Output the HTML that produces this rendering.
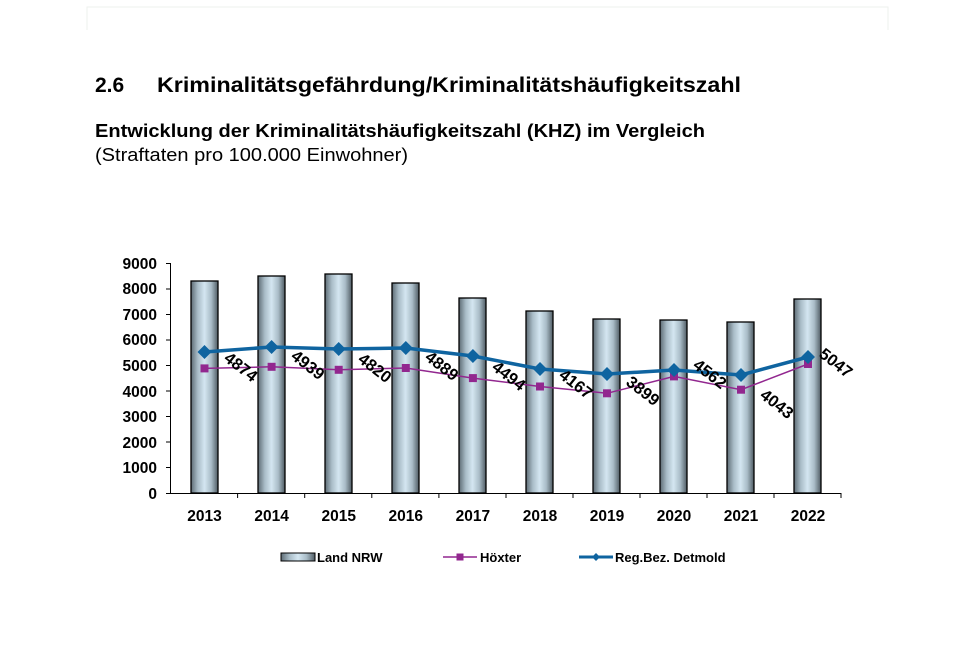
<!DOCTYPE html>
<html><head><meta charset="utf-8"><style>html,body{margin:0;padding:0;background:#fff}svg{display:block}</style></head>
<body>
<svg width="953" height="671" viewBox="0 0 953 671" xmlns="http://www.w3.org/2000/svg" font-family="Liberation Sans, Arial, sans-serif">
<defs>
<linearGradient id="bg" x1="0" x2="1" y1="0" y2="0">
<stop offset="0" stop-color="#5d6b74"/><stop offset="0.25" stop-color="#a9bcc7"/><stop offset="0.5" stop-color="#d4e6f1"/><stop offset="0.75" stop-color="#a9bcc7"/><stop offset="1" stop-color="#4f5b63"/>
</linearGradient>
</defs>
<path d="M87 30 V7 H888 V30" fill="none" stroke="#eef0ee" stroke-width="1"/>
<text x="95" y="92" font-size="21" font-weight="bold" fill="#000">2.6</text>
<text x="157" y="92" font-size="21" font-weight="bold" fill="#000" textLength="584" lengthAdjust="spacingAndGlyphs">Kriminalitätsgefährdung/Kriminalitätshäufigkeitszahl</text>
<text x="95" y="137" font-size="18" font-weight="bold" fill="#000" textLength="610" lengthAdjust="spacingAndGlyphs">Entwicklung der Kriminalitätshäufigkeitszahl (KHZ) im Vergleich</text>
<text x="95" y="161" font-size="18" fill="#000" textLength="313" lengthAdjust="spacingAndGlyphs">(Straftaten pro 100.000 Einwohner)</text>
<g font-size="15.5" font-weight="bold" text-anchor="end" fill="#000">
<text x="157" y="499">0</text><text x="157" y="473">1000</text><text x="157" y="448">2000</text><text x="157" y="422">3000</text><text x="157" y="397">4000</text><text x="157" y="371">5000</text><text x="157" y="345">6000</text><text x="157" y="320">7000</text><text x="157" y="294">8000</text><text x="157" y="269">9000</text>
</g>
<g stroke="#000" stroke-width="1">
<line x1="170.5" y1="263" x2="170.5" y2="494"/>
<line x1="166" y1="493.5" x2="841" y2="493.5"/>
<line x1="166" x2="170" y1="263.5" y2="263.5"/><line x1="166" x2="170" y1="289" y2="289"/><line x1="166" x2="170" y1="314.5" y2="314.5"/><line x1="166" x2="170" y1="340" y2="340"/><line x1="166" x2="170" y1="365.5" y2="365.5"/><line x1="166" x2="170" y1="391" y2="391"/><line x1="166" x2="170" y1="416.5" y2="416.5"/><line x1="166" x2="170" y1="442" y2="442"/><line x1="166" x2="170" y1="467.5" y2="467.5"/>
<line x1="237.6" x2="237.6" y1="493" y2="498"/><line x1="304.7" x2="304.7" y1="493" y2="498"/><line x1="371.8" x2="371.8" y1="493" y2="498"/><line x1="438.9" x2="438.9" y1="493" y2="498"/><line x1="506" x2="506" y1="493" y2="498"/><line x1="573" x2="573" y1="493" y2="498"/><line x1="640" x2="640" y1="493" y2="498"/><line x1="707" x2="707" y1="493" y2="498"/><line x1="774" x2="774" y1="493" y2="498"/><line x1="841" x2="841" y1="493" y2="498"/>
</g>
<g fill="url(#bg)" stroke="#000" stroke-width="1.3">
<rect x="191" y="281" width="27" height="212"/>
<rect x="258" y="276" width="27" height="217"/>
<rect x="325" y="274" width="27" height="219"/>
<rect x="392" y="283" width="27" height="210"/>
<rect x="459" y="298" width="27" height="195"/>
<rect x="526" y="311" width="27" height="182"/>
<rect x="593" y="319" width="27" height="174"/>
<rect x="660" y="320" width="27" height="173"/>
<rect x="727" y="322" width="27" height="171"/>
<rect x="794" y="299" width="27" height="194"/>
</g>
<polyline fill="none" stroke="#92278f" stroke-width="1.5" points="204.5,368.4 271.6,366.8 338.7,369.8 405.8,368 472.9,378.1 540,386.5 607,393.3 674,376.4 741,389.7 808,364"/>
<g fill="#92278f">
<rect x="200.5" y="364.4" width="8" height="8"/><rect x="267.6" y="362.8" width="8" height="8"/><rect x="334.7" y="365.8" width="8" height="8"/><rect x="401.8" y="364" width="8" height="8"/><rect x="468.9" y="374.1" width="8" height="8"/><rect x="536" y="382.5" width="8" height="8"/><rect x="603" y="389.3" width="8" height="8"/><rect x="670" y="372.4" width="8" height="8"/><rect x="737" y="385.7" width="8" height="8"/><rect x="804" y="360" width="8" height="8"/>
</g>
<polyline fill="none" stroke="#0f64a0" stroke-width="3.5" stroke-linejoin="round" points="204.5,352 271.6,347 338.7,349 405.8,348 472.9,356 540,369 607,374 674,370 741,375 808,357"/>
<g fill="#0f64a0">
<path d="M204.5 345 l7 7 l-7 7 l-7 -7z"/><path d="M271.6 340 l7 7 l-7 7 l-7 -7z"/><path d="M338.7 342 l7 7 l-7 7 l-7 -7z"/><path d="M405.8 341 l7 7 l-7 7 l-7 -7z"/><path d="M472.9 349 l7 7 l-7 7 l-7 -7z"/><path d="M540 362 l7 7 l-7 7 l-7 -7z"/><path d="M607 367 l7 7 l-7 7 l-7 -7z"/><path d="M674 363 l7 7 l-7 7 l-7 -7z"/><path d="M741 368 l7 7 l-7 7 l-7 -7z"/><path d="M808 350 l7 7 l-7 7 l-7 -7z"/>
</g>
<g font-size="16.5" font-weight="bold" fill="#000">
<text transform="translate(223,360) rotate(38)">4874</text>
<text transform="translate(290,358) rotate(38)">4939</text>
<text transform="translate(357,361) rotate(38)">4820</text>
<text transform="translate(424,359) rotate(38)">4889</text>
<text transform="translate(491,369) rotate(38)">4494</text>
<text transform="translate(558,377) rotate(38)">4167</text>
<text transform="translate(625,384) rotate(38)">3899</text>
<text transform="translate(692,367) rotate(38)">4562</text>
<text transform="translate(759,397) rotate(38)">4043</text>
<text transform="translate(818,356) rotate(38)">5047</text>
</g>
<g font-size="15.5" font-weight="bold" text-anchor="middle" fill="#000">
<text x="204.5" y="521">2013</text><text x="271.6" y="521">2014</text><text x="338.7" y="521">2015</text><text x="405.8" y="521">2016</text><text x="472.9" y="521">2017</text><text x="540" y="521">2018</text><text x="607" y="521">2019</text><text x="674" y="521">2020</text><text x="741" y="521">2021</text><text x="808" y="521">2022</text>
</g>
<rect x="281" y="553" width="34" height="8" fill="url(#bg)" stroke="#000"/>
<text x="317" y="562" font-size="13" font-weight="bold">Land NRW</text>
<line x1="443" x2="477" y1="557" y2="557" stroke="#92278f" stroke-width="1.5"/>
<rect x="456.5" y="553.5" width="7" height="7" fill="#92278f"/>
<text x="480" y="562" font-size="13" font-weight="bold">Höxter</text>
<line x1="579" x2="613" y1="557" y2="557" stroke="#0f64a0" stroke-width="3"/>
<path d="M596 553 l4 4 l-4 4 l-4 -4z" fill="#0f64a0"/>
<text x="615" y="562" font-size="13" font-weight="bold">Reg.Bez. Detmold</text>
</svg>
</body></html>
